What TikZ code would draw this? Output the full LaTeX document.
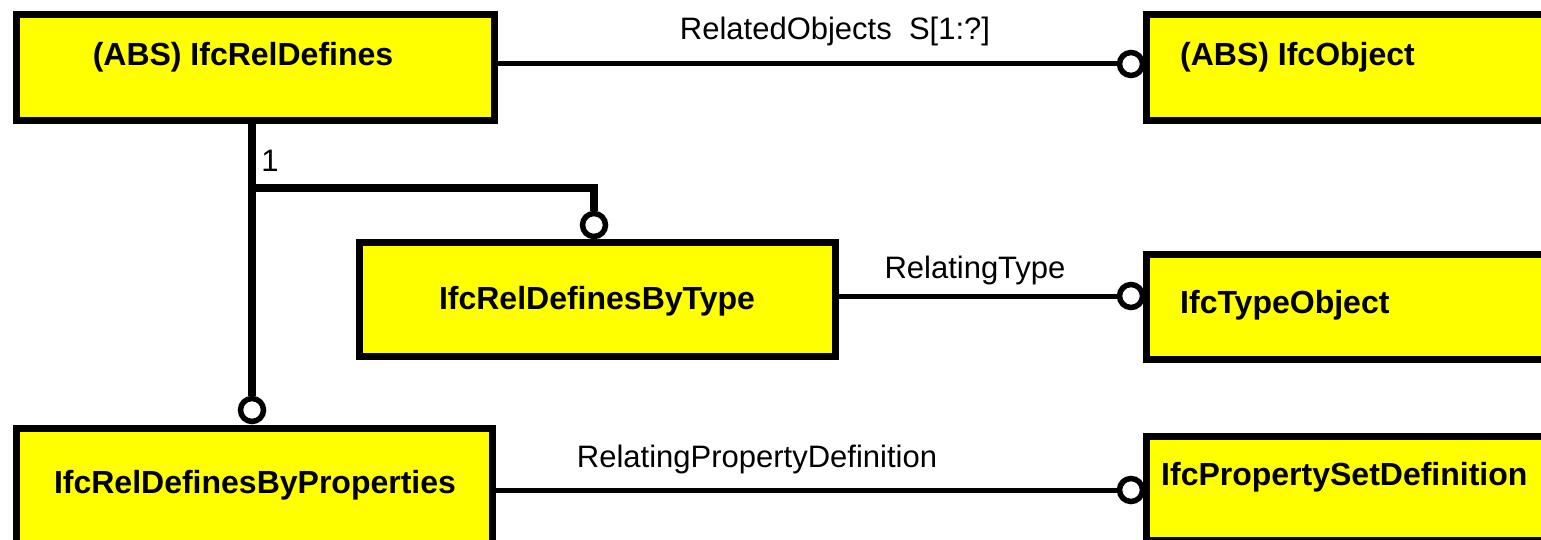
\documentclass[tikz,border=0pt]{standalone}
\usepackage{fontspec}
\setmainfont{Liberation Sans}
\definecolor{boxyellow}{RGB}{255,255,0}
\begin{document}
\begin{tikzpicture}[x=1pt,y=-1pt,
  entity/.style={draw=black,line width=7pt,fill=boxyellow,inner sep=0pt,anchor=north west},
  ename/.style={font=\fontsize{32}{34}\selectfont\bfseries,inner sep=0pt},
  rlabel/.style={font=\fontsize{31}{34}\selectfont,inner sep=0pt},
  thinlink/.style={line width=5pt},
  thicklink/.style={line width=8pt},
  opt/.style={circle,draw=black,fill=white,line width=5.5pt,minimum size=23pt,inner sep=0pt}]
\useasboundingbox (0,0) rectangle (1541,540);
% boxes
\node[entity,minimum width=478pt,minimum height=106pt] (A) at (13,11) {};
\node[entity,minimum width=398pt,minimum height=106pt] (B) at (1143,11) {};
\node[entity,minimum width=476pt,minimum height=114pt] (C) at (356,239) {};
\node[entity,minimum width=398pt,minimum height=105pt] (D) at (1143,251) {};
\node[entity,minimum width=476pt,minimum height=118pt] (E) at (13,425) {};
\node[entity,minimum width=398pt,minimum height=104pt] (F) at (1143,433) {};
% names
\node[ename] (tA) at (243,57) {(ABS) IfcRelDefines};
\node[ename,anchor=west] (tB) at (1180,57) {(ABS) IfcObject};
\node[ename] (tC) at (597,301) {IfcRelDefinesByType};
\node[ename,anchor=west] (tD) at (1180,305) {IfcTypeObject};
\node[ename] (tE) at (255,485) {IfcRelDefinesByProperties};
\node[ename,anchor=west] (tF) at (1161,477) {IfcPropertySetDefinition};
% circles
\node[opt] (oB) at (1131,64) {};
\node[opt] (oD) at (1131,296) {};
\node[opt] (oF) at (1131,490) {};
\node[opt] (oE) at (252,410) {};
\node[opt] (oC) at (594,225) {};
\coordinate (br) at (252,188);
\coordinate (brr) at (594,188);
% links
\draw[thinlink] (A.east |- oB) -- (oB.west);
\draw[thinlink] (C.east |- oD) -- (oD.west);
\draw[thinlink] (E.east |- oF) -- (oF.west);
\draw[thicklink] (A.south -| oE) -- (oE.north);
\draw[thicklink] (br) -- (brr) -- (oC.north);
% labels
\node[rlabel] (lAB) at (835,31) {RelatedObjects\ \ S[1:?]};
\node[rlabel] (lCD) at (975,270) {RelatingType};
\node[rlabel] (lEF) at (757,459) {RelatingPropertyDefinition};
\node[rlabel] (l1) at (270,161) {1};
\end{tikzpicture}
\end{document}
